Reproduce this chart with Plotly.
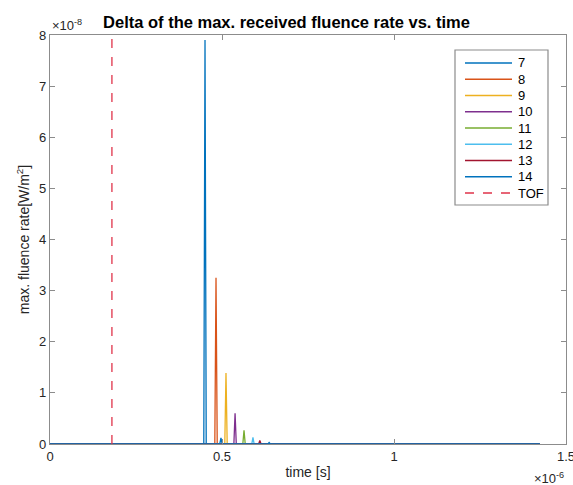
import plotly.graph_objects as go

# -------------------------------
# DATA
# -------------------------------
series_names = ["7", "8", "9", "10", "11", "12", "13", "14"]
series_colors = ["#0072BD", "#D95319", "#EDB120", "#7E2F8E",
                 "#77AC30", "#4DBEEE", "#A2142F", "#0072BD"]

# spike positions [s] and heights [W/m^2] for each series
peak_times = [
    [0.4506e-6],
    [0.4826e-6],
    [0.5116e-6],
    [0.5380e-6],
    [0.5640e-6],
    [0.5900e-6],
    [0.6100e-6],
    [0.4970e-6, 0.6370e-6],
]
peak_values = [
    [7.90e-8],
    [3.25e-8],
    [1.39e-8],
    [0.60e-8],
    [0.27e-8],
    [0.13e-8],
    [0.07e-8],
    [0.12e-8, 0.03e-8],
]
t_start = 0.0
t_end = 1.424e-6
spike_half_width = 0.0035e-6

tof_time = 0.18e-6
tof_y = [0.0, 8e-8]

x_tickvals = [0, 0.5e-6, 1e-6, 1.5e-6]
x_ticktext = ["0", "0.5", "1", "1.5"]
y_tickvals = [i * 1e-8 for i in range(9)]
y_ticktext = [str(i) for i in range(9)]

FONT = "Liberation Sans, Arial, Helvetica, sans-serif"
AXIS_GREY = "#8c8c8c"
TOF_COLOR = "#E0334A"

fig = go.Figure()

for name, color, times, values in zip(series_names, series_colors, peak_times, peak_values):
    xs, ys = [t_start], [0.0]
    for t, v in zip(times, values):
        xs += [t - spike_half_width, t, t + spike_half_width]
        ys += [0.0, v, 0.0]
    xs.append(t_end)
    ys.append(0.0)
    fig.add_trace(go.Scatter(x=xs, y=ys, mode="lines", name=name, showlegend=False,
                             line=dict(color=color, width=1.3)))

fig.add_trace(go.Scatter(x=[tof_time, tof_time], y=tof_y, mode="lines", name="TOF",
                         showlegend=False,
                         line=dict(color=TOF_COLOR, width=1.3, dash="dash")))

fig.update_layout(
    width=573, height=485,
    margin=dict(l=50, r=7, t=35, b=41),
    paper_bgcolor="white", plot_bgcolor="white",
    font=dict(family=FONT, size=13, color="#262626"),
    title=dict(text="<b>Delta of the max. received fluence rate vs. time</b>",
               x=0.5, xanchor="center", y=0.955, yanchor="middle",
               font=dict(size=16.5, color="#000000")),
    showlegend=False,
)

fig.update_xaxes(range=[0, 1.5e-6], tickvals=x_tickvals, ticktext=x_ticktext,
                 ticks="inside", ticklen=5, tickcolor=AXIS_GREY,
                 ticklabeloverflow="allow", automargin=False,
                 showline=True, linecolor=AXIS_GREY, linewidth=1.2, mirror="ticks",
                 showgrid=False, zeroline=False,
                 title=dict(text="time [s]", standoff=4, font=dict(size=14)))
fig.update_yaxes(range=[0, 8e-8], tickvals=y_tickvals, ticktext=y_ticktext,
                 ticks="inside", ticklen=5, tickcolor=AXIS_GREY,
                 showline=True, linecolor=AXIS_GREY, linewidth=1.2, mirror="ticks",
                 showgrid=False, zeroline=False,
                 title=dict(text="max. fluence rate[W/m<sup>2</sup>]", standoff=6,
                            font=dict(size=14)))

# exponent labels like MATLAB
fig.add_annotation(text="\u00d710<sup>-8</sup>", xref="paper", yref="paper",
                   x=0.0, y=1.0, xanchor="left", yanchor="bottom",
                   showarrow=False, font=dict(size=13, color="#262626"))
fig.add_annotation(text="\u00d710<sup>-6</sup>", xref="paper", yref="paper",
                   x=1.0, y=0.0, xanchor="right", yanchor="top", yshift=-24,
                   showarrow=False, font=dict(size=13, color="#262626"))

# -------------------------------
# LEGEND (MATLAB-style compact box)
# -------------------------------
plot_w, plot_h = 573 - 50 - 7, 485 - 35 - 41
box_x0, box_x1 = (455 - 50) / plot_w, (548 - 50) / plot_w
box_y1, box_y0 = (444 - 50) / plot_h, (444 - 205) / plot_h
fig.add_shape(type="rect", xref="paper", yref="paper",
              x0=box_x0, x1=box_x1, y0=box_y0, y1=box_y1,
              line=dict(color=AXIS_GREY, width=1.2), fillcolor="white", layer="above")

legend_names = series_names + ["TOF"]
legend_colors = series_colors + [TOF_COLOR]
row_step = 16.25 / plot_h
first_row = (444 - 63) / plot_h
line_x0, line_x1 = (465 - 50) / plot_w, (512 - 50) / plot_w
text_x = (516 - 50) / plot_w
for i, (name, color) in enumerate(zip(legend_names, legend_colors)):
    yy = first_row - i * row_step
    fig.add_shape(type="line", xref="paper", yref="paper",
                  x0=line_x0, x1=line_x1, y0=yy, y1=yy, layer="above",
                  line=dict(color=color, width=1.3,
                            dash="dash" if name == "TOF" else "solid"))
    fig.add_annotation(text=name, xref="paper", yref="paper", x=text_x, y=yy,
                       xanchor="left", yanchor="middle", showarrow=False,
                       font=dict(size=13, color="#000000"))

# page has a default 8px body margin; drop it so the figure sits at the window origin
fig.write_html("out.html", config={"displayModeBar": False},
               post_script="document.body.style.margin='0px';")
